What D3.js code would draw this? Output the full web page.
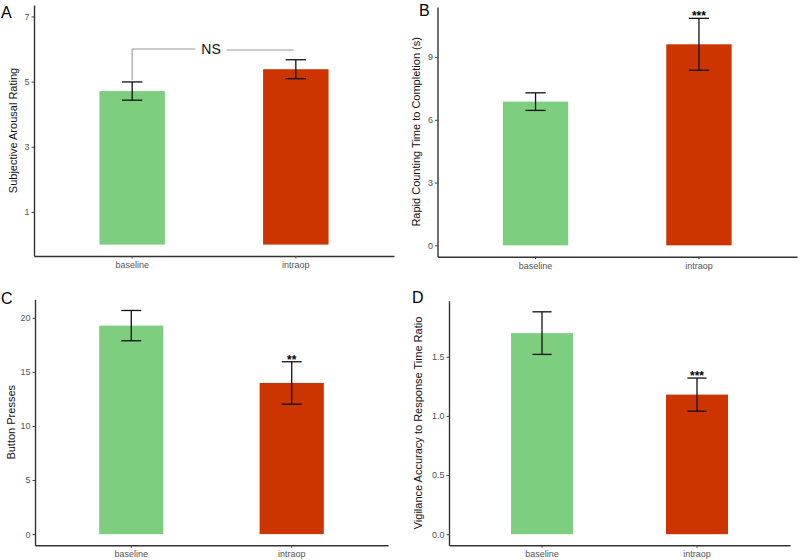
<!DOCTYPE html>
<html>
<head>
<meta charset="utf-8">
<script src="https://cdn.jsdelivr.net/npm/d3@7"></script>
<style>
  html, body { margin: 0; padding: 0; background: #fff; }
  svg { display: block; font-family: "Liberation Sans", Arial, Helvetica, sans-serif; }
</style>
</head>
<body>
<svg id="chart" width="800" height="560"></svg>
<script>
// ---------------- data ----------------
const categories = ["baseline", "intraop"];

const arousalMean = [4.71, 5.38];
const arousalErr  = [0.28, 0.29];
const arousalTicks = [1, 3, 5, 7];
const arousalLimit = 7;
const arousalBracketLabel = "NS";
const arousalBracketValue = 6;

const countingMean = [6.87, 9.61];
const countingErr  = [0.42, 1.24];
const countingTicks = [0, 3, 6, 9];
const countingSig = ["", "***"];

const pressesMean = [19.28, 13.98];
const pressesErr  = [1.40, 1.96];
const pressesTicks = [0, 5, 10, 15, 20];
const pressesSig = ["", "**"];

const vigilanceMean = [1.70, 1.18];
const vigilanceErr  = [0.18, 0.14];
const vigilanceTicks = [0.0, 0.5, 1.0, 1.5];
const vigilanceSig = ["", "***"];

const barColors = ["#7dce7e", "#cc3400"];

// ---------------- panels ----------------
const panels = [
  { letter: "A", title: "Subjective Arousal Rating",
    mean: arousalMean, err: arousalErr, ticks: arousalTicks, fmt: d3.format("d"),
    limit: arousalLimit, sig: null,
    box: { left: 34, right: 394, top: 5, bottom: 256 }, titleX: 17, letterPos: [1, 17.5] },
  { letter: "B", title: "Rapid Counting Time to Completion (s)",
    mean: countingMean, err: countingErr, ticks: countingTicks, fmt: d3.format("d"),
    limit: null, sig: countingSig,
    box: { left: 437.5, right: 797, top: 7, bottom: 256.7 }, titleX: 419.5, letterPos: [419, 16] },
  { letter: "C", title: "Button Presses",
    mean: pressesMean, err: pressesErr, ticks: pressesTicks, fmt: d3.format("d"),
    limit: null, sig: pressesSig,
    box: { left: 35, right: 388, top: 299.3, bottom: 545.3 }, titleX: 14.5, letterPos: [1, 304] },
  { letter: "D", title: "Vigilance Accuracy to Response Time Ratio",
    mean: vigilanceMean, err: vigilanceErr, ticks: vigilanceTicks, fmt: d3.format(".1f"),
    limit: null, sig: vigilanceSig,
    box: { left: 449, right: 790, top: 300.7, bottom: 545.3 }, titleX: 422, letterPos: [412, 303] }
];

const svg = d3.select("#chart");

panels.forEach((p, pi) => {
  const b = p.box;
  const g = svg.append("g");

  const upper = p.mean.map((m, i) => m + p.err[i]);
  const top = p.limit != null ? p.limit : d3.max(upper);
  const pad = top * 0.05;
  const y = d3.scaleLinear().domain([-pad, top + pad]).range([b.bottom, b.top]);
  const x = d3.scaleBand().domain(categories).range([b.left, b.right])
    .paddingInner(0.6).paddingOuter(0.4);
  const bw = x.bandwidth();
  const cx = c => x(c) + bw / 2;

  // bars
  g.selectAll("rect.bar").data(categories).join("rect")
    .attr("class", "bar")
    .attr("x", c => x(c))
    .attr("width", bw)
    .attr("y", (c, i) => y(p.mean[i]))
    .attr("height", (c, i) => y(0) - y(p.mean[i]))
    .attr("fill", (c, i) => barColors[i]);

  // error bars
  const capW = bw * 0.31;
  const eb = g.selectAll("g.err").data(categories).join("g").attr("class", "err")
    .attr("stroke", "#111").attr("stroke-width", 1.3).attr("fill", "none");
  eb.append("line")
    .attr("x1", c => cx(c)).attr("x2", c => cx(c))
    .attr("y1", (c, i) => y(p.mean[i] - p.err[i]))
    .attr("y2", (c, i) => y(p.mean[i] + p.err[i]));
  eb.append("line")
    .attr("x1", c => cx(c) - capW / 2).attr("x2", c => cx(c) + capW / 2)
    .attr("y1", (c, i) => y(p.mean[i] + p.err[i]))
    .attr("y2", (c, i) => y(p.mean[i] + p.err[i]));
  eb.append("line")
    .attr("x1", c => cx(c) - capW / 2).attr("x2", c => cx(c) + capW / 2)
    .attr("y1", (c, i) => y(p.mean[i] - p.err[i]))
    .attr("y2", (c, i) => y(p.mean[i] - p.err[i]));

  // significance stars
  if (p.sig) {
    g.selectAll("text.sig").data(categories).join("text")
      .attr("class", "sig")
      .attr("x", c => cx(c))
      .attr("y", (c, i) => y(p.mean[i] + p.err[i]) + 2)
      .attr("text-anchor", "middle")
      .attr("font-size", 12)
      .attr("font-weight", "bold")
      .attr("fill", "#000")
      .text((c, i) => p.sig[i]);
  }

  // axes
  const yAxis = d3.axisLeft(y).tickValues(p.ticks).tickFormat(p.fmt)
    .tickSize(2.5).tickSizeOuter(0).tickPadding(2);
  const ya = g.append("g").attr("transform", `translate(${b.left},0)`).call(yAxis);
  const xAxis = d3.axisBottom(x).tickSize(2.5).tickSizeOuter(0).tickPadding(3);
  const xa = g.append("g").attr("transform", `translate(0,${b.bottom})`).call(xAxis);
  [ya, xa].forEach(a => {
    a.select(".domain").attr("stroke", "#333").attr("stroke-width", 1.4);
    a.selectAll(".tick line").attr("stroke", "#444").attr("stroke-width", 1);
    a.selectAll(".tick text").attr("fill", "#555").attr("font-size", 9)
      .attr("font-family", "\"Liberation Sans\", Arial, sans-serif");
  });

  // y title
  g.append("text")
    .attr("transform", `translate(${p.titleX},${(b.top + b.bottom) / 2}) rotate(-90)`)
    .attr("text-anchor", "middle")
    .attr("font-size", 11)
    .attr("fill", "#111")
    .text(p.title);

  // panel letter
  g.append("text")
    .attr("x", p.letterPos[0]).attr("y", p.letterPos[1])
    .attr("font-size", 16)
    .attr("fill", "#000")
    .text(p.letter);

  // NS bracket for panel A
  if (pi === 0) {
    const x1 = cx(categories[0]), x2 = cx(categories[1]);
    const yb = y(arousalBracketValue);
    const mid = (x1 + x2) / 2 - 3;
    const t = g.append("text")
      .attr("x", mid).attr("y", yb + 5)
      .attr("text-anchor", "middle")
      .attr("font-size", 14)
      .attr("fill", "#111")
      .text(arousalBracketLabel);
    const bb = t.node().getBBox();
    const gap = 6;
    const low = y(upper[0]) - 2;
    g.append("path")
      .attr("d", `M${x1},${low}V${yb}H${bb.x - gap}`)
      .attr("stroke", "#999").attr("stroke-width", 1.1).attr("fill", "none");
    g.append("path")
      .attr("d", `M${bb.x + bb.width + gap},${yb + 1}H${x2 - 2}`)
      .attr("stroke", "#999").attr("stroke-width", 1.1).attr("fill", "none");
  }
});
</script>
</body>
</html>
